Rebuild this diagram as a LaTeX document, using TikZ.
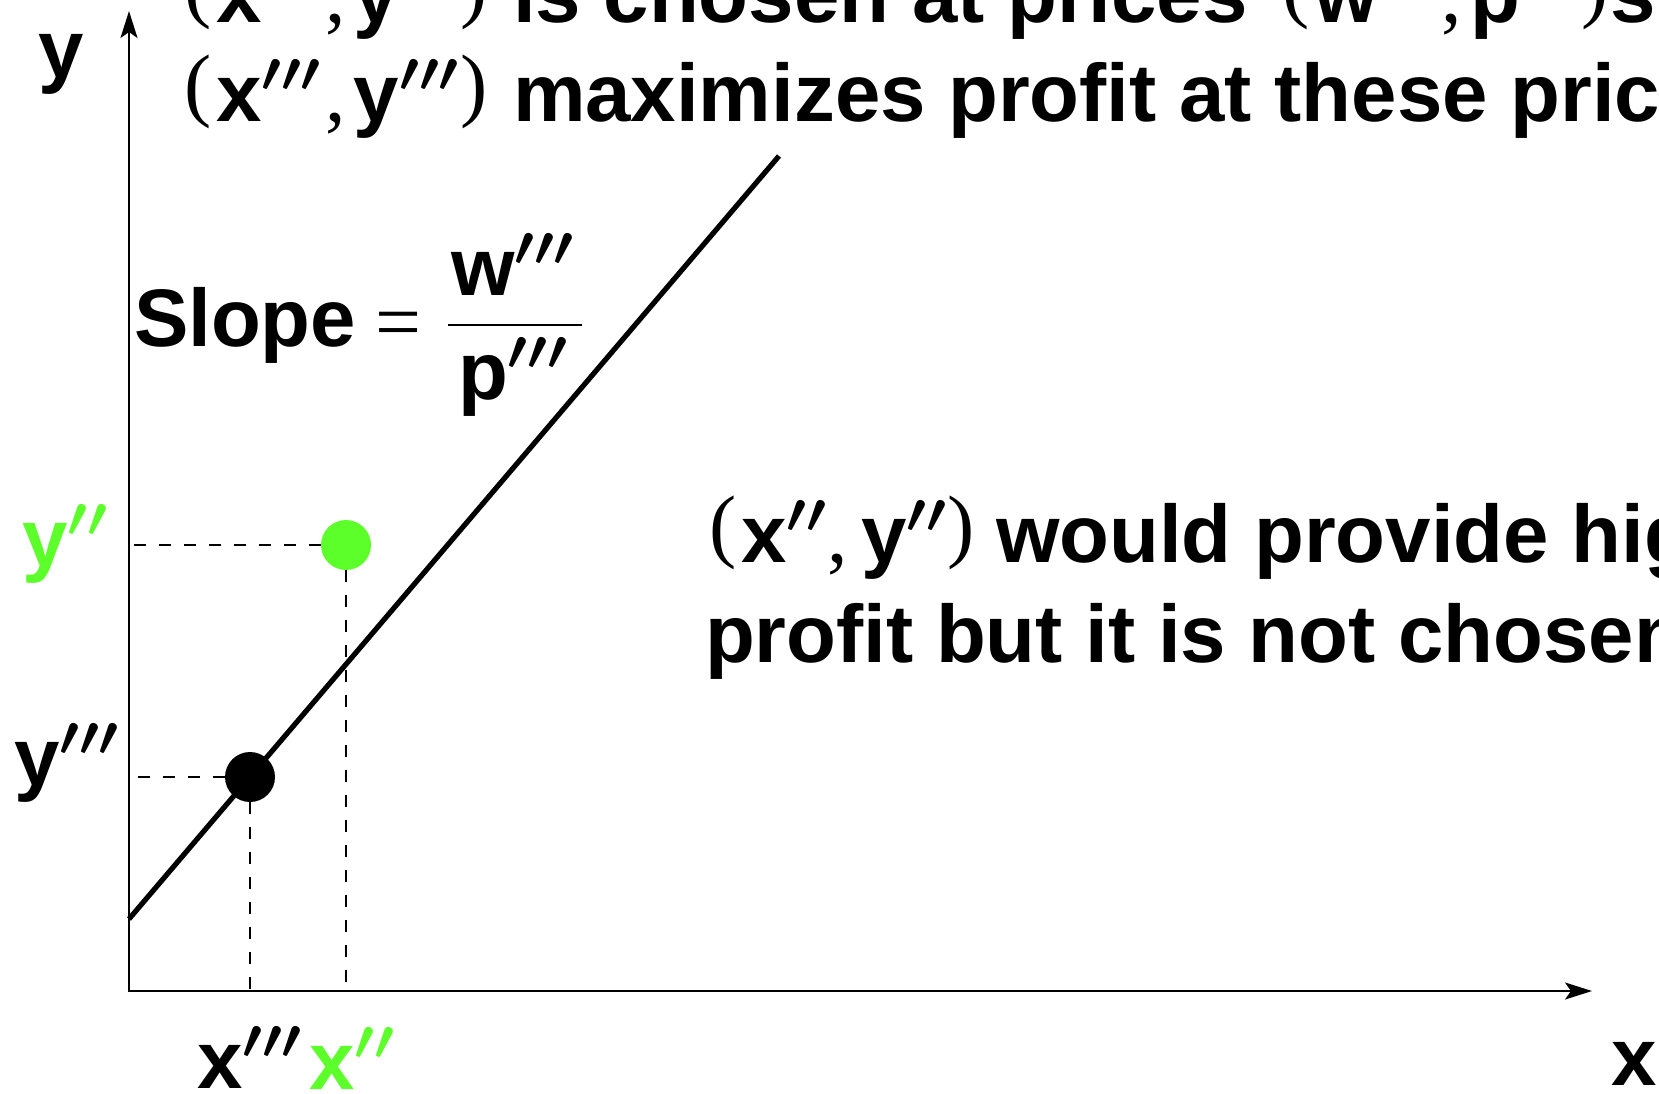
\RequirePackage{fix-cm}
\documentclass[tikz,border=0pt]{standalone}
\usepackage{fontspec}
\setmainfont{Liberation Sans}
\newfontfamily\tms{Liberation Serif}
\usetikzlibrary{arrows.meta}
\definecolor{ptgreen}{RGB}{92,255,42}
\newcommand\bigf{\fontsize{40.8}{48}\selectfont\bfseries\boldmath}
\newcommand\pthree{\ensuremath{^{\prime\prime\prime}}}
\newcommand\ptwo{\ensuremath{^{\prime\prime}}}
\newcommand\sparen[1]{\raisebox{5pt}{\mdseries\tms #1}}
% (a''',b''') group
\newcommand\pgroupiii[2]{\sparen{(}\kern2.5pt #1\pthree\kern2pt{\mdseries\tms,}\kern4pt #2\pthree\kern0.8pt\sparen{)}}
% (a'',b'') group
\newcommand\pgroupii[2]{\sparen{(}\kern2.5pt #1\ptwo\kern0.5pt{\mdseries\tms,}\kern6.5pt #2\ptwo\kern0.3pt\sparen{)}}
\begin{document}
\begin{tikzpicture}[x=0.5pt,y=-0.5pt,
  txt/.style={inner sep=0pt, outer sep=0pt, anchor=base west, font=\bigf},
  axisline/.style={line width=1.1pt, {Stealth[length=13.5pt,width=8.5pt,inset=3pt]}-{Stealth[length=13.5pt,width=8.5pt,inset=3pt]}},
  budget/.style={line width=2.6pt},
  guide/.style={line width=1.4pt, dash pattern=on 6pt off 6.5pt},
  dot/.style={circle, inner sep=0pt, minimum size=25pt},
  fracbar/.style={line width=0.8pt}]
\useasboundingbox (0,0) rectangle (1659,1093);
\clip (0,0) rectangle (1659,1093);
% axes
\coordinate (O) at (129,991);
\coordinate (ytop) at (129,11);
\coordinate (xend) at (1592,991);
\draw[axisline] (ytop) -- (O) -- (xend);
% points
\coordinate (Apos) at (250,777);
\coordinate (Bpos) at (346,545);
\draw[guide] (Apos) -- (Apos -| O);
\draw[guide] (Apos) -- (Apos |- O);
\draw[guide] (Bpos) -- (Bpos -| O);
\draw[guide] (Bpos) -- (Bpos |- O);
% isoprofit line
\coordinate (L0) at (129,919);
\coordinate (L1) at (779,156);
\draw[budget] (L0) -- (L1);
\node[dot, fill=black] (A) at (Apos) {};
\node[dot, fill=ptgreen] (B) at (Bpos) {};
% axis labels
\node[txt] (ylab) at (39,77) {y};
\node[txt, text=ptgreen] (yB) at (22,566) {y\ptwo};
\node[txt] (yA) at (14,785) {y\pthree};
\node[txt] (xA) at (197,1088) {x\pthree};
\node[txt, text=ptgreen] (xB) at (309,1089) {x\ptwo};
\node[txt] (xlab) at (1611,1085) {x};
% slope
\node[txt] (slope) at (134,346) {Slope};
\node[txt, font=\bigf\mdseries\tms] (eq) at (375,349) {=};
\coordinate (f0) at (448,325);
\coordinate (f1) at (582,325);
\draw[fracbar] (f0) -- (f1);
\node[txt] (num) at (451,295) {w\pthree};
\node[txt] (den) at (458,399) {p\pthree};
% top text
\node[txt] (t1a) at (184,22) {\pgroupiii{x}{y}};
\node[txt] (t1b) at (513,22) {is chosen at prices};
\node[txt] (t1c) at (1282,22) {\pgroupiii{w}{p}};
\node[txt] (t1d) at (1610,22) {s};
\node[txt] (t2a) at (184,121) {\pgroupiii{x}{y}};
\node[txt] (t2b) at (513,121) {maximizes profit at these prices};
% lower text
\node[txt] (t3a) at (709,562) {\pgroupii{x}{y}};
\node[txt] (t3b) at (996,562) {would provide higher};
\node[txt] (t4) at (705,662) {profit but it is not chosen};
\end{tikzpicture}
\end{document}
